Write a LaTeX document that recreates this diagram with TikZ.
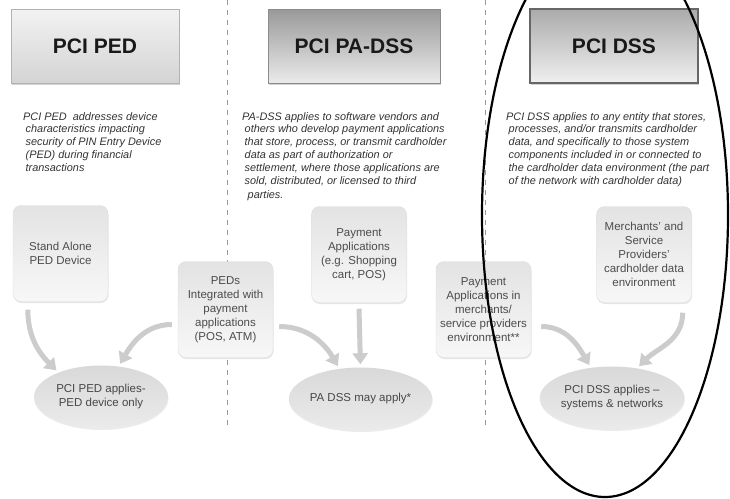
\documentclass[tikz,border=0pt]{standalone}
\usepackage{fontspec}
\setmainfont{Liberation Sans}
\usetikzlibrary{shapes.geometric,shadows,arrows.meta}
\newcommand{\nl}{\\\hspace*{2.5pt}}
\tikzset{
  hdrbox/.style={draw, minimum width=168pt, minimum height=74pt, text=black!90,
    font=\bfseries\fontsize{21}{25}\selectfont,
    drop shadow={opacity=0.35, shadow xshift=1pt, shadow yshift=-2pt}},
  notetext/.style={anchor=north west, align=left, inner sep=0pt, text=black!80,
    font=\itshape\fontsize{10.9}{12.8}\selectfont},
  appbox/.style={draw=black!12, rounded corners=8pt, top color=black!11, bottom color=black!3,
    minimum width=95pt, minimum height=96pt, inner sep=2pt, align=center, text=black!70,
    font=\fontsize{11.5}{14}\selectfont,
    drop shadow={opacity=0.2, shadow xshift=0.5pt, shadow yshift=-1.5pt}},
  resultell/.style={ellipse, top color=black!15, bottom color=black!8, minimum width=134pt,
    minimum height=63pt, inner sep=0pt, align=center, text=black!72,
    font=\fontsize{11.5}{14}\selectfont,
    drop shadow={opacity=0.15, shadow xshift=0.5pt, shadow yshift=-1.5pt}},
  grayarrow/.style={draw=black!20, line width=5pt, -{Triangle[width=15pt,length=11pt]}, shorten >=3pt},
  sepline/.style={black!40, dash pattern=on 5pt off 5pt, line width=0.8pt}
}
\begin{document}
\begin{tikzpicture}[x=1pt,y=1pt]
    \useasboundingbox (0,-498) rectangle (730,0);
    \fill[white] (0,-498) rectangle (730,0);

    \draw[sepline] (227,0) -- (227,-425);
    \draw[sepline] (485,0) -- (485,-425);

    \node[hdrbox, draw=black!30, top color=black!5, bottom color=black!17] (hPED) at (95,-46) {PCI PED};
    \node[hdrbox, draw=black!45, top color=black!40, bottom color=black!8, minimum width=172pt] (hPADSS) at (354,-46) {PCI PA-DSS};
    \node[hdrbox, draw=black!60, line width=1.2pt, top color=black!33, bottom color=black!6] (hDSS) at (614,-46) {PCI DSS};

    \node[notetext] (nPED) at (23,-112) {PCI PED\ \ addresses device\nl characteristics impacting\nl security of PIN Entry Device\nl (PED) during financial\nl transactions};
    \node[notetext] (nPADSS) at (242,-112) {PA-DSS applies to software vendors and\nl others who develop payment applications\nl that store, process, or transmit cardholder\nl data as part of authorization or\nl settlement, where those applications are\nl sold, distributed, or licensed to third\\[2pt]\hspace*{2.5pt} parties.};
    \node[notetext] (nDSS) at (506,-112) {PCI DSS applies to any entity that stores,\nl processes, and/or transmits cardholder\nl data, and specifically to those system\nl components included in or connected to\nl the cardholder data environment (the part\nl of the network with cardholder data)};

    \node[appbox] (bStand) at (60.5,-253.5) {Stand Alone\\PED Device};
    \node[appbox] (bPEDs) at (225.5,-309.5) {PEDs\\Integrated with\\payment\\applications\\(POS, ATM)};
    \node[appbox] (bPA) at (359,-254.5) {Payment\\Applications\\(e.g. Shopping\\cart, POS)};
    \node[appbox] (bMerch) at (483.5,-309.5) {Payment\\Applications in\\merchants/\\service providers\\environment**};
    \node[appbox] (bCDE) at (644,-254.5) {Merchants’ and\\Service\\Providers’\\cardholder data\\environment};

    \node[resultell] (ePED) at (101,-397) {PCI PED applies-\\PED device only};
    \node[resultell] (ePA) at (360.5,-399) {PA DSS may apply*};
    \node[resultell] (eDSS) at (612,-398) {PCI DSS applies –\\systems \& networks};

    \draw[grayarrow] ([xshift=15pt,yshift=-8pt]bStand.south west) to[out=-90,in=135] (ePED.150);
    \draw[grayarrow] ([xshift=-6pt,yshift=-15pt]bPEDs.west) to[out=180,in=60] (ePED.60);
    \draw[grayarrow] ([xshift=6pt,yshift=-17pt]bPEDs.east) to[out=0,in=120] (ePA.125);
    \draw[grayarrow] ([yshift=-6pt]bPA.south) -- (ePA.north);
    \draw[grayarrow] ([xshift=10pt,yshift=-17pt]bMerch.east) to[out=0,in=120] (eDSS.125);
    \draw[grayarrow] ([xshift=-9pt,yshift=-10pt]bCDE.south east) to[out=-90,in=45] (eDSS.50);

    \begin{scope}
      \clip (0,-498) rectangle (730,0);
      \draw[line width=2.2pt] (605,-215) ellipse [x radius=123, y radius=282];
    \end{scope}
\end{tikzpicture}
\end{document}
